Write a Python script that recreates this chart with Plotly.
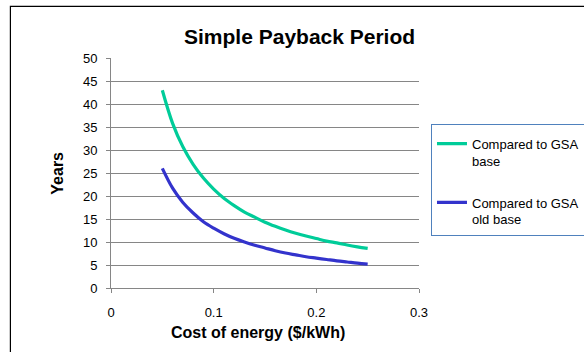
import plotly.graph_objects as go

# Data
cost = [0.05, 0.06, 0.07, 0.08, 0.09, 0.10, 0.11, 0.12, 0.13, 0.14, 0.15,
        0.16, 0.17, 0.18, 0.19, 0.20, 0.21, 0.22, 0.23, 0.24, 0.25]
gsa_base = [43.0, 35.8, 30.7, 26.9, 23.9, 21.5, 19.5, 17.9, 16.5, 15.4, 14.3,
            13.4, 12.6, 11.9, 11.3, 10.75, 10.2, 9.8, 9.35, 8.95, 8.6]
gsa_old_base = [26.0, 21.7, 18.6, 16.3, 14.4, 13.0, 11.8, 10.8, 10.0, 9.3, 8.7,
                8.1, 7.6, 7.2, 6.8, 6.5, 6.2, 5.9, 5.65, 5.4, 5.2]
series_names = ["Compared to GSA<br>base", "Compared to GSA<br>old base"]
x_ticks = [0, 0.1, 0.2, 0.3]
x_tick_text = ["0", "0.1", "0.2", "0.3"]
title_text = "Simple Payback Period"
x_title = "Cost of energy ($/kWh)"
y_title = "Years"

W, H = 584, 352
L, R, T, B = 110.7, 165, 58.3, 64
PW = W - L - R
PH = H - T - B

def px(x):
    return (x - L) / PW

def py(y):
    return (H - B - y) / PH

FONT = "Liberation Sans, Arial, sans-serif"
GRID = "#868686"

fig = go.Figure()
fig.add_trace(go.Scatter(x=cost, y=gsa_base, mode="lines", name=series_names[0],
                         legendgroup="g1",
                         line=dict(color="#00CC99", width=3.2, shape="spline")))
fig.add_trace(go.Scatter(x=cost, y=gsa_old_base, mode="lines", name=series_names[1],
                         legendgroup="g2",
                         line=dict(color="#3333CC", width=3.2, shape="spline")))

fig.update_layout(
    width=W, height=H,
    margin=dict(l=L, r=R, t=T, b=B, pad=0, autoexpand=False),
    paper_bgcolor="white", plot_bgcolor="white",
    font=dict(family=FONT, size=13, color="#000000"),
    showlegend=True,
    legend=dict(x=px(431), y=py(124), xanchor="left", yanchor="top",
                bordercolor="#4F81BD", borderwidth=1, bgcolor="white",
                font=dict(size=13, family=FONT), tracegroupgap=22,
                itemwidth=30, valign="top",
                title=dict(text=" ", font=dict(size=3))),
    xaxis=dict(range=[0, 0.3], tickvals=x_ticks, ticktext=x_tick_text,
               showgrid=False, zeroline=False, showline=True, linecolor=GRID,
               linewidth=1, ticks="outside", ticklen=4, tickcolor=GRID,
               ticklabelstandoff=8, tickfont=dict(size=13)),
    yaxis=dict(range=[0, 50], dtick=5, showgrid=True, gridcolor=GRID, gridwidth=1,
               zeroline=False, showline=True, linecolor=GRID, linewidth=1,
               ticks="outside", ticklen=4, tickcolor=GRID,
               ticklabelstandoff=6, tickfont=dict(size=13)),
    annotations=[
        dict(text="<b>" + title_text + "</b>", x=px(299), y=py(37), xref="paper",
             yref="paper", xanchor="center", yanchor="middle", showarrow=False,
             font=dict(size=21, family=FONT)),
        dict(text="<b>" + x_title + "</b>", x=px(258), y=py(332), xref="paper",
             yref="paper", xanchor="center", yanchor="middle", showarrow=False,
             font=dict(size=16, family=FONT)),
        dict(text="<b>" + y_title + "</b>", x=px(57.5), y=py(173), xref="paper",
             yref="paper", xanchor="center", yanchor="middle", showarrow=False,
             textangle=-90, font=dict(size=16, family=FONT)),
    ],
    shapes=[
        dict(type="rect", xref="paper", yref="paper", x0=px(10), x1=px(700),
             y0=py(500), y1=py(6.7), line=dict(color="#000000", width=1.2),
             fillcolor="rgba(0,0,0,0)", layer="above"),
    ],
)

fig.write_html("out.html")
